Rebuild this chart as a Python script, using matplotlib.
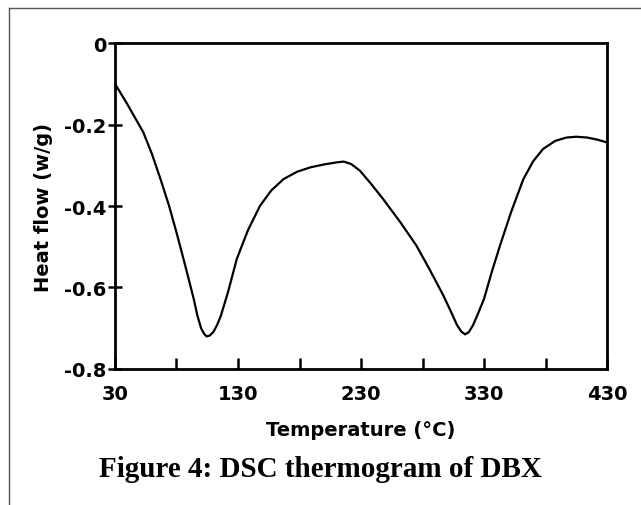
import matplotlib
matplotlib.use("Agg")
import matplotlib.pyplot as plt
from matplotlib.lines import Line2D

# values
temperature = [30, 40, 53, 60, 67, 74, 80, 87, 94, 97, 100, 102.5, 104.5, 107, 110,
               113, 116, 122, 129, 138, 148, 157, 167, 178, 189, 200, 210, 216, 222,
               229, 238, 248, 262, 275, 286, 297, 304, 308, 311.5, 314.6, 317.5, 321,
               325, 330, 336, 343, 352, 362, 370, 378, 388, 397, 405, 414, 422, 430]
heat_flow = [-0.100, -0.150, -0.219, -0.272, -0.334, -0.400, -0.465, -0.545, -0.628,
             -0.669, -0.700, -0.714, -0.720, -0.718, -0.709, -0.692, -0.670, -0.610,
             -0.530, -0.460, -0.399, -0.362, -0.334, -0.316, -0.305, -0.298, -0.293,
             -0.291, -0.297, -0.313, -0.345, -0.383, -0.440, -0.497, -0.557, -0.620,
             -0.665, -0.692, -0.708, -0.715, -0.710, -0.693, -0.665, -0.628, -0.565,
             -0.497, -0.415, -0.334, -0.290, -0.260, -0.240, -0.232, -0.230, -0.232,
             -0.237, -0.244]

x_labels = [30, 130, 230, 330, 430]
x_minor = [80, 180, 280, 380]
y_ticks = [0, -0.2, -0.4, -0.6, -0.8]
y_labels = ["0", "-0.2", "-0.4", "-0.6", "-0.8"]

fig = plt.figure(figsize=(6.41, 5.06), dpi=100)
ax = fig.add_axes([0.1794, 0.2688, 0.7676, 0.6442])

ax.plot(temperature, heat_flow, color="black", lw=1.6, solid_joinstyle="round")
ax.set_xlim(30, 430)
ax.set_ylim(-0.8, 0)

ax.set_xticks(x_labels)
ax.set_xticklabels([str(v) for v in x_labels])
ax.set_xticks(x_minor, minor=True)
ax.set_yticks(y_ticks)
ax.set_yticklabels(y_labels)

ax.tick_params(axis="x", which="both", direction="in", length=8, width=1.8, pad=11,
               labelsize=14)
ax.tick_params(axis="y", direction="inout", length=10, width=1.8, pad=1,
               labelsize=14)
for lab in ax.get_xticklabels() + ax.get_yticklabels():
    lab.set_fontweight("bold")

for sp in ax.spines.values():
    sp.set_linewidth(2)

ax.set_xlabel("Temperature (°C)", fontsize=14, fontweight="bold", labelpad=12)
ax.set_ylabel("Heat flow (w/g)", fontsize=14, fontweight="bold", labelpad=8)

fig.text(0.5, 0.072, "Figure 4: DSC thermogram of DBX", ha="center", va="center",
         fontsize=21, fontweight="bold", family="Liberation Serif")

# page frame (left and top edges only visible)
fig.add_artist(Line2D([9 / 641, 9 / 641], [0, 1 - 9 / 506], transform=fig.transFigure,
                      color="#555555", lw=1))
fig.add_artist(Line2D([9 / 641, 1], [1 - 9 / 506, 1 - 9 / 506], transform=fig.transFigure,
                      color="#555555", lw=1))

fig.savefig("out.png", dpi=100)
